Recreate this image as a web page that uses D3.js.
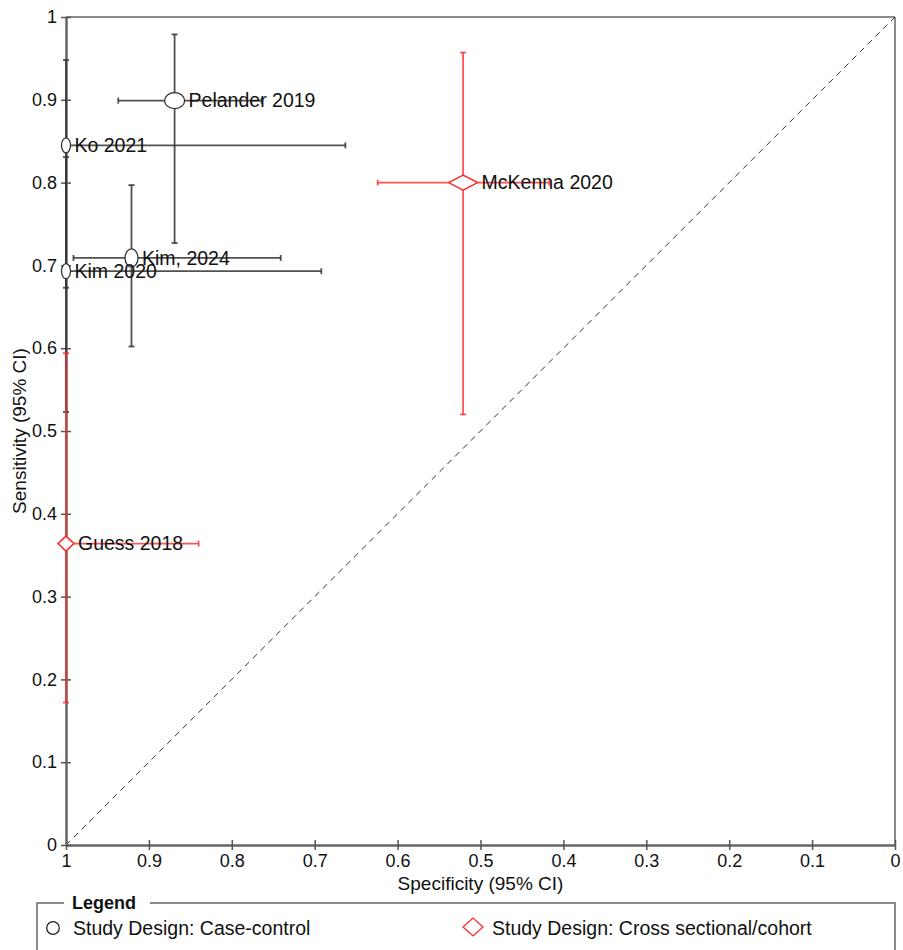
<!DOCTYPE html>
<html>
<head>
<meta charset="utf-8">
<script src="https://cdn.jsdelivr.net/npm/d3@7"></script>
<style>
  body { margin: 0; background: #fff; }
  svg { font-family: "Liberation Sans", Arial, sans-serif; }
</style>
</head>
<body>
<script>
// study data
var studies = ["Pelander 2019", "Ko 2021", "Kim, 2024", "Kim 2020", "McKenna 2020", "Guess 2018"]
var design = ["cc", "cc", "cc", "cc", "cs", "cs"]
var specificity = [0.869, 1.0, 0.921, 1.0, 0.521, 1.0]
var specLow = [0.764, 0.663, 0.741, 0.692, 0.417, 0.840]
var specHigh = [0.937, 1.0, 0.991, 1.0, 0.624, 1.0]
var sensitivity = [0.899, 0.845, 0.709, 0.693, 0.800, 0.364]
var sensLow = [0.727, 0.673, 0.602, 0.523, 0.520, 0.172]
var sensHigh = [0.979, 0.948, 0.797, 0.831, 0.957, 0.594]
// marker half sizes (weights of each study), px
var markerRx = [10, 4.5, 6.5, 4.5, 14.5, 8]
var markerRy = [8, 7.5, 9, 7.5, 7.5, 7.5]

var ticks = [1, 0.9, 0.8, 0.7, 0.6, 0.5, 0.4, 0.3, 0.2, 0.1, 0]
var legendLabels = {cc: "Study Design: Case-control", cs: "Study Design: Cross sectional/cohort"}

var W = 903, H = 950
var colors = {cc: "#333333", cs: "#ff2a2a"}

var rows = studies.map(function(s, i) {
	return {name: s, design: design[i], spec: specificity[i], specLo: specLow[i], specHi: specHigh[i],
		sens: sensitivity[i], sensLo: sensLow[i], sensHi: sensHigh[i], rx: markerRx[i], ry: markerRy[i]}
})

var x = d3.scaleLinear().domain([1, 0]).range([66, 895])
var y = d3.scaleLinear().domain([0, 1]).range([845, 17])

var svg = d3.select("body").append("svg")
	.attr("width", W)
	.attr("height", H)

var fmt = function(d) { return String(+d.toFixed(1)) }

// frame top / right
svg.append("line").attr("x1", x(1)).attr("x2", x(0)).attr("y1", y(1)).attr("y2", y(1))
	.attr("stroke", "#8a8a8a").attr("stroke-width", 2)
svg.append("line").attr("x1", x(0)).attr("x2", x(0)).attr("y1", y(1)).attr("y2", y(0))
	.attr("stroke", "#8a8a8a").attr("stroke-width", 2)

// diagonal
svg.append("line")
	.attr("x1", x(1)).attr("y1", y(0))
	.attr("x2", x(0)).attr("y2", y(1))
	.attr("stroke", "#333").attr("stroke-width", 1)
	.attr("stroke-dasharray", "6,5")

// axes
var xAxis = svg.append("g")
	.attr("transform", "translate(0," + y(0) + ")")
	.call(d3.axisBottom(x).tickValues(ticks).tickFormat(fmt).tickSizeOuter(0))
var yAxis = svg.append("g")
	.attr("transform", "translate(" + x(1) + ",0)")
	.call(d3.axisLeft(y).tickValues(ticks).tickFormat(fmt).tickSizeOuter(0))

xAxis.selectAll(".tick line").attr("y1", -5).attr("y2", 5)
yAxis.selectAll(".tick line").attr("x1", -5).attr("x2", 5)
;[xAxis, yAxis].forEach(function(a) {
	a.select(".domain").attr("stroke", "#666").attr("stroke-width", 2.5)
	a.selectAll(".tick line").attr("stroke", "#555").attr("stroke-width", 1.5)
	a.selectAll(".tick text").attr("fill", "#111").style("font-size", "18px")
		.style("font-family", "'Liberation Sans', Arial, sans-serif")
})
xAxis.selectAll(".tick text").attr("y", 9)
yAxis.selectAll(".tick text").attr("x", -9)

// axis titles
svg.append("text")
	.attr("x", (x(1) + x(0)) / 2).attr("y", 890)
	.attr("text-anchor", "middle")
	.style("font-size", "19px").attr("fill", "#111")
	.text("Specificity (95% CI)")
svg.append("text")
	.attr("transform", "translate(26," + (y(0) + y(1)) / 2 + ") rotate(-90)")
	.attr("text-anchor", "middle")
	.style("font-size", "19px").attr("fill", "#111")
	.text("Sensitivity (95% CI)")

// error bars
var bars = svg.append("g")
rows.forEach(function(d) {
	var g = bars.append("g")
		.attr("stroke", colors[d.design])
		.attr("stroke-width", 1.8)
		.attr("stroke-opacity", d.design == "cs" ? 0.8 : 0.85)
	g.append("line").attr("x1", x(d.specHi)).attr("x2", x(d.specLo))
		.attr("y1", y(d.sens)).attr("y2", y(d.sens))
	g.append("line").attr("x1", x(d.spec)).attr("x2", x(d.spec))
		.attr("y1", y(d.sensLo)).attr("y2", y(d.sensHi))
	// caps
	;[d.specHi, d.specLo].forEach(function(v) {
		g.append("line").attr("x1", x(v)).attr("x2", x(v))
			.attr("y1", y(d.sens) - 3).attr("y2", y(d.sens) + 3)
	})
	;[d.sensLo, d.sensHi].forEach(function(v) {
		g.append("line").attr("x1", x(d.spec) - 3).attr("x2", x(d.spec) + 3)
			.attr("y1", y(v)).attr("y2", y(v))
	})
})

// markers
var marks = svg.append("g")
rows.forEach(function(d) {
	var cx = x(d.spec), cy = y(d.sens)
	if (d.design == "cc") {
		marks.append("ellipse")
			.attr("cx", cx).attr("cy", cy).attr("rx", d.rx).attr("ry", d.ry)
			.attr("fill", "#fff").attr("stroke", colors.cc).attr("stroke-width", 1.3)
	} else {
		marks.append("path")
			.attr("d", "M" + (cx - d.rx) + "," + cy + "L" + cx + "," + (cy - d.ry) +
				"L" + (cx + d.rx) + "," + cy + "L" + cx + "," + (cy + d.ry) + "Z")
			.attr("fill", "#fff").attr("stroke", colors.cs).attr("stroke-width", 1.5)
	}
})

// labels
svg.append("g").selectAll("text")
	.data(rows)
	.join("text")
	.attr("x", function(d) { return x(d.spec) + d.rx + 4 })
	.attr("y", function(d) { return y(d.sens) })
	.attr("dy", "0.35em")
	.style("font-size", "19.5px")
	.attr("fill", "#111")
	.text(function(d) { return d.name })

// legend
var lg = svg.append("g")
lg.append("path")
	.attr("d", "M64,903 H37 V960 M150,903 H895 V960")
	.attr("fill", "none").attr("stroke", "#8a8a8a").attr("stroke-width", 2)
lg.append("text").attr("x", 72).attr("y", 903).attr("dy", "0.35em")
	.style("font-size", "18px").style("font-weight", "bold").attr("fill", "#111")
	.text("Legend")

lg.append("circle").attr("cx", 53).attr("cy", 928).attr("r", 6.3)
	.attr("fill", "#fff").attr("stroke", "#222").attr("stroke-width", 1.3)
lg.append("text").attr("x", 73).attr("y", 928).attr("dy", "0.35em")
	.style("font-size", "19.5px").attr("fill", "#111")
	.text(legendLabels.cc)

lg.append("path").attr("d", "M463,927L473,918L483,927L473,936Z")
	.attr("fill", "#fff").attr("stroke", colors.cs).attr("stroke-width", 1.3)
lg.append("text").attr("x", 492).attr("y", 928).attr("dy", "0.35em")
	.style("font-size", "19.5px").attr("fill", "#111")
	.text(legendLabels.cs)
</script>
</body>
</html>
